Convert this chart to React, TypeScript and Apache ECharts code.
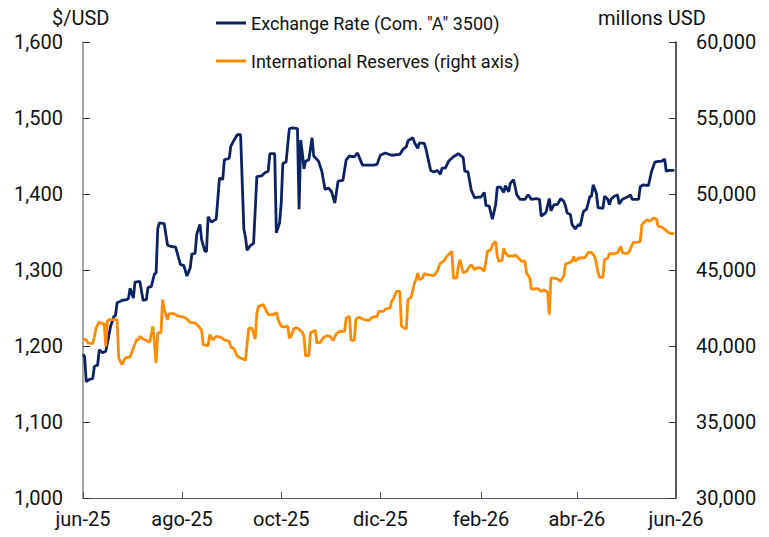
import { useEffect, useRef } from "react";
import * as echarts from "echarts";

// Days since 2025-06-01 and values
const fxDays = [0,1,2,4,6,7,9,10,12,14,15,17,19,20,21,24,27,28,29,31,32,35,37,39,40,42,44,45,46,47,50,52,54,57,60,62,64,66,67,69,70,72,73,75,76,77,79,82,84,86,87,90,91,93,95,97,99,100,101,103,105,107,110,112,114,115,118,119,121,122,123,125,127,129,132,133,134,135,136,137,139,141,142,145,147,149,151,153,155,157,160,162,164,167,169,172,176,179,181,183,186,190,195,197,199,200,203,204,206,207,210,211,214,216,218,220,221,223,225,228,231,234,235,237,239,241,243,245,247,248,250,252,254,255,257,259,260,262,263,265,267,269,272,274,276,279,281,282,284,285,287,288,290,292,294,296,297,298,300,301,303,305,306,308,310,312,313,314,316,317,320,321,323,324,325,327,329,330,332,334,336,337,338,342,343,345,348,350,352,354,356,358,359,361,364];
const fxRates = [1189,1186,1153,1156,1157,1173,1175,1195,1191,1193,1204,1226,1239,1240,1257,1260,1261,1263,1276,1263,1284,1285,1260,1261,1277,1278,1295,1296,1354,1362,1361,1333,1331,1330,1307,1306,1292,1303,1321,1322,1347,1360,1340,1325,1324,1370,1363,1367,1421,1419,1445,1447,1463,1471,1478,1478,1354,1343,1326,1332,1335,1423,1424,1428,1430,1453,1453,1349,1362,1388,1440,1442,1486,1487,1486,1380,1471,1454,1433,1443,1445,1474,1450,1443,1430,1406,1408,1403,1388,1417,1418,1445,1450,1449,1454,1438,1438,1438,1439,1451,1454,1451,1452,1459,1462,1470,1474,1468,1460,1467,1467,1460,1431,1429,1431,1426,1434,1434,1443,1449,1453,1448,1430,1429,1405,1395,1396,1396,1402,1385,1384,1367,1386,1409,1409,1402,1411,1403,1414,1419,1399,1393,1393,1399,1393,1394,1393,1371,1374,1376,1394,1378,1386,1386,1394,1390,1384,1375,1373,1360,1354,1360,1358,1377,1380,1397,1397,1412,1401,1382,1381,1397,1393,1386,1393,1397,1399,1387,1393,1395,1397,1399,1393,1393,1410,1412,1411,1430,1442,1443,1443,1446,1430,1431,1431];

const resDays = [0,2,3,6,7,8,10,12,13,14,15,16,21,22,24,26,29,31,33,34,35,37,39,41,43,44,45,46,48,49,50,52,53,56,58,60,62,64,66,69,71,73,74,77,78,80,82,85,87,90,91,93,95,97,99,100,102,104,106,107,108,111,113,114,117,119,120,122,124,126,127,128,130,132,135,136,137,139,140,143,144,146,148,150,152,154,156,158,161,162,164,165,167,168,170,172,176,178,181,182,185,186,189,190,191,193,195,196,199,200,202,204,205,206,207,209,210,212,216,218,220,222,224,226,227,228,230,231,232,234,236,238,239,241,242,245,247,249,251,252,254,255,256,258,259,260,262,263,265,266,268,270,272,273,275,276,278,280,282,284,286,287,288,290,292,294,296,297,299,301,302,303,305,307,309,311,313,315,317,318,320,321,323,324,327,329,331,332,334,336,338,339,341,343,344,345,347,349,351,353,354,356,358,360,362,364];
const resValues = [40460,40400,40200,40150,40630,41180,41580,41450,41500,39980,41650,41730,41730,39210,38770,39210,39280,39870,40410,40410,40630,40460,40370,40240,41290,40150,38880,40850,40900,43050,42390,41730,42130,42130,41990,41950,41900,41770,41550,41510,41320,41050,40090,40020,40750,40400,40630,40570,40400,40300,39930,39800,39320,39210,39140,39060,41180,41180,40460,42170,42610,42720,42280,42060,42060,42210,41770,41290,41250,41320,40530,40630,41180,41180,40900,40630,39360,39360,40850,41030,40200,40240,40550,40680,40630,40370,40810,40960,40960,41840,41950,40370,40370,41770,41900,41770,41680,41900,41950,42280,42280,42430,42500,42940,43090,43600,43600,41290,41110,43050,43220,44140,44360,44800,44360,44470,44760,44690,44630,44910,45460,45570,45900,46120,46230,44470,44470,45240,45680,44800,44910,45240,45350,45020,45130,45130,44910,46230,46340,46660,46880,45900,45570,45640,46440,46120,45900,45940,45900,46010,45790,45570,45570,44800,44470,43750,43750,43770,43600,43700,43530,42060,44470,44470,44410,44250,44630,45400,45460,45570,45900,45570,45790,45790,45830,46160,46160,45900,44850,44520,44520,45680,45790,46070,46070,46120,46550,46160,46070,46160,46660,46820,46820,46880,47980,48090,48310,48200,48420,48360,47870,47830,47700,47480,47390,47390];

const xTickDates = ["2025-06-01", "2025-08-01", "2025-10-01", "2025-12-01", "2026-02-01", "2026-04-01", "2026-06-01"];
const xTickLabels = ["jun-25", "ago-25", "oct-25", "dic-25", "feb-26", "abr-26", "jun-26"];

const seriesNames = ['Exchange Rate (Com. "A" 3500)', "International Reserves (right axis)"];
const leftAxisTitle = "$/USD";
const rightAxisTitle = "millons USD";

const dayTs = (d: number) => new Date(2025, 5, 1 + d).getTime();
const dateTs = (s: string) => {
  const [y, m, d] = s.split("-").map(Number);
  return new Date(y, m - 1, d).getTime();
};

const FONT = "Roboto";
const NAVY = "#0b2263";
const ORANGE = "#ff8c00";

export default function App() {
  const ref = useRef<HTMLDivElement>(null);
  useEffect(() => {
    const chart = echarts.init(ref.current!, null, { renderer: "svg" });
    const tickTs = xTickDates.map(dateTs);
    const fmt = (v: number) => v.toLocaleString("en-US");
    chart.setOption({
      animation: false,
      backgroundColor: "#fff",
      textStyle: { fontFamily: FONT },
      grid: { left: 83, right: 93, top: 42, bottom: 39, containLabel: false },
      legend: {
        orient: "vertical",
        left: 216,
        top: 14,
        padding: 0,
        itemWidth: 30,
        itemHeight: 3,
        itemGap: 20,
        icon: "rect",
        data: seriesNames,
        textStyle: { fontSize: 18, fontFamily: FONT, color: "#111" },
      },
      graphic: [
        { type: "text", left: 52, top: 8, style: { text: leftAxisTitle, fontSize: 20, fontFamily: FONT, fill: "#111" } },
        { type: "text", left: 598, top: 8, style: { text: rightAxisTitle, fontSize: 20, fontFamily: FONT, fill: "#111" } },
      ],
      xAxis: {
        type: "value",
        min: tickTs[0],
        max: tickTs[tickTs.length - 1],
        scale: true,
        splitLine: { show: false },
        axisLine: { show: true, onZero: false, lineStyle: { color: "#555", width: 1 } },
        axisTick: { show: true, inside: true, length: 6, customValues: tickTs, lineStyle: { color: "#555" } },
        axisLabel: {
          customValues: tickTs,
          margin: 11,
          fontSize: 20,
          fontFamily: FONT,
          color: "#111",
          formatter: (v: number) => {
            const i = tickTs.indexOf(v);
            return i >= 0 ? xTickLabels[i] : "";
          },
        },
      },
      yAxis: [
        {
          type: "value",
          position: "left",
          min: 1000,
          max: 1600,
          interval: 100,
          splitLine: { show: false },
          axisLine: { show: true, lineStyle: { color: "#888", width: 1.5 } },
          axisTick: { show: true, inside: true, length: 7, lineStyle: { color: "#333" } },
          axisLabel: { margin: 20, fontSize: 20, fontFamily: FONT, color: "#111", formatter: fmt },
        },
        {
          type: "value",
          position: "right",
          min: 30000,
          max: 60000,
          interval: 5000,
          splitLine: { show: false },
          axisLine: { show: true, lineStyle: { color: "#222", width: 1.5 } },
          axisTick: { show: true, inside: true, length: 7, lineStyle: { color: "#333" } },
          axisLabel: { margin: 20, fontSize: 20, fontFamily: FONT, color: "#111", formatter: fmt },
        },
      ],
      series: [
        {
          name: seriesNames[0],
          type: "line",
          yAxisIndex: 0,
          showSymbol: false,
          symbol: "none",
          color: NAVY,
          lineStyle: { width: 2.8, color: NAVY },
          data: fxDays.map((d, i) => [dayTs(d), fxRates[i]]),
        },
        {
          name: seriesNames[1],
          type: "line",
          yAxisIndex: 1,
          showSymbol: false,
          symbol: "none",
          color: ORANGE,
          lineStyle: { width: 2.8, color: ORANGE },
          data: resDays.map((d, i) => [dayTs(d), resValues[i]]),
        },
      ],
    });
    return () => chart.dispose();
  }, []);
  return <div ref={ref} style={{ position: "fixed", left: 0, top: 0, width: 769, height: 537 }} />;
}
